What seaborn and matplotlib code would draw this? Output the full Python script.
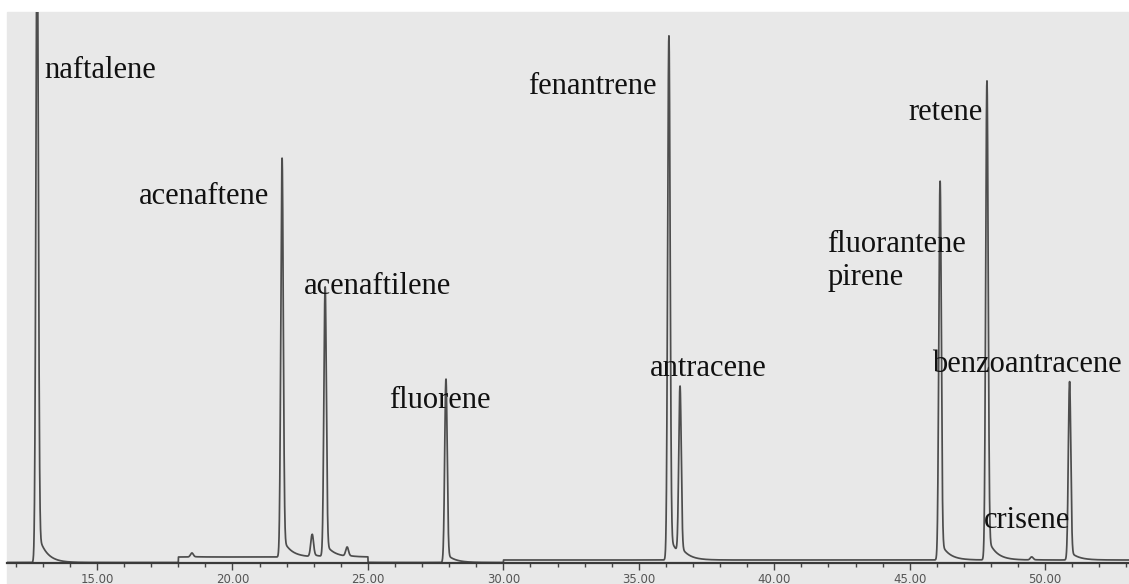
import numpy as np
import pandas as pd
import matplotlib
matplotlib.use("Agg")
import matplotlib.pyplot as plt
from matplotlib.patches import Rectangle
import seaborn as sns

# Compounds: retention time (min) and peak height (abundance units)
compounds = ["naftalene", "acenaftene", "acenaftilene", "fluorene", "fenantrene",
             "antracene", "fluorantene", "retene", "benzoantracene"]
retention_time = [12.79, 21.83, 23.42, 27.88, 36.11, 36.52, 46.12, 47.85, 50.90]
peak_height = [640, 398, 269, 183, 523, 167, 378, 478, 178]

# Minor unlabelled peaks
minor_time = [18.50, 22.94, 24.23, 49.50]
minor_height = [4, 22, 9, 3]

# Baseline level of each acquisition window
window_start = [11.0, 18.0, 25.0, 30.0]
window_end = [18.0, 25.0, 30.0, 54.0]
window_level = [0.5, 6.0, 0.5, 3.0]

tick_values = [15, 20, 25, 30, 35, 40, 45, 50]
tick_labels = ["15.00", "20.00", "25.00", "30.00", "35.00", "40.00", "45.00", "50.00"]


def peak(t, t0, h, sigma=0.045, tail=0.05, tau=0.3):
    g = np.exp(-0.5 * ((t - t0) / sigma) ** 2)
    dt = np.clip(t - t0, 0, None)
    tl = tail * np.exp(-dt / tau) * (1 - np.exp(-dt / 0.03))
    return h * (g + tl)


t = np.arange(11.6, 53.3, 0.004)
signal = np.zeros_like(t)
for s, e, lv in zip(window_start, window_end, window_level):
    signal[(t >= s) & (t < e)] = lv
for t0, h in zip(retention_time, peak_height):
    signal += peak(t, t0, h)
for t0, h in zip(minor_time, minor_height):
    signal += peak(t, t0, h, sigma=0.05, tail=0.1)

df = pd.DataFrame({"time": t, "abundance": signal})

sns.set_theme(style="white")
plt.rcParams["font.family"] = ["DejaVu Sans"]

fig = plt.figure(figsize=(11.29, 5.84), dpi=100)
fig.patch.set_facecolor("white")
fig.patches.append(Rectangle((7 / 1129, 0), 1 - 7 / 1129, 572 / 584,
                             transform=fig.transFigure, color="#e8e8e8", zorder=0))

ax = fig.add_axes([7 / 1129, 21 / 584, 1122 / 1129, 551 / 584])
ax.set_facecolor("none")
ax.set_zorder(2)

sns.lineplot(data=df, x="time", y="abundance", ax=ax, color="#4d4d4d",
             linewidth=1.25, estimator=None, sort=False)

ax.set_xlim(11.678, 53.095)
ax.set_ylim(0, 551)
ax.set_xlabel("")
ax.set_ylabel("")
ax.set_yticks([])
for side in ["left", "top", "right"]:
    ax.spines[side].set_visible(False)
ax.spines["bottom"].set_color("#3a3a3a")
ax.spines["bottom"].set_linewidth(1.6)

ax.set_xticks(tick_values)
ax.set_xticklabels(tick_labels)
ax.set_xticks(np.arange(12, 54, 1), minor=True)
ax.tick_params(axis="x", which="major", direction="out", length=5, width=1.0,
               color="#444444", labelsize=8.5, labelcolor="#555555", pad=2, bottom=True)
ax.tick_params(axis="x", which="minor", direction="out", length=3, width=1.0,
               color="#444444", bottom=True)

# Compound labels (left edge, vertical centre) in data coordinates
label_pos = {
    "naftalene": (13.05, 493),
    "acenaftene": (16.55, 366),
    "acenaftilene": (22.65, 276),
    "fluorene": (25.80, 163),
    "fenantrene": (30.92, 476),
    "antracene": (35.40, 194),
    "fluorantene\npirene": (41.96, 302),
    "retene": (44.95, 451),
    "benzoantracene": (45.84, 198),
    "crisene": (47.72, 43),
}
for text, (x, y) in label_pos.items():
    ax.text(x, y, text, ha="left", va="center", fontsize=22,
            family="Liberation Serif", color="#111111", linespacing=1.2)

fig.savefig("out.png", dpi=100, facecolor="white")
